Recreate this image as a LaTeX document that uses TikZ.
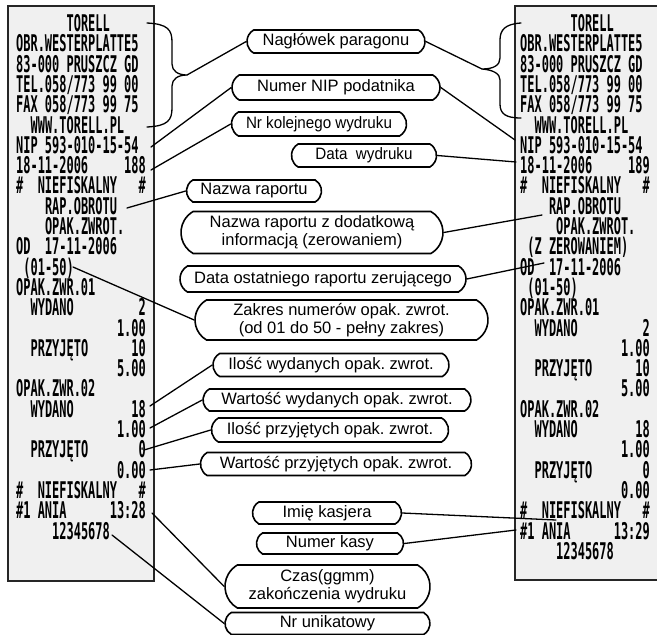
\documentclass[tikz,border=0pt]{standalone}
\usepackage{fontspec}
\usetikzlibrary{shapes.misc}
\newfontfamily\rcf[FakeStretch=0.52]{DejaVu Sans Mono Bold}
\newfontfamily\lsf{Liberation Sans}
\tikzset{
  rtxt/.style={anchor=base west, inner sep=0pt, text height=15pt, text depth=1pt, font=\rcf\fontsize{23}{23}\selectfont},
  rbox/.style={draw=black!85, line width=1.5pt, fill=black!6},
  callout/.style={draw, line width=1.6pt, fill=white, rounded rectangle, rounded rectangle arc length=120,
     inner sep=0pt, align=center, font=\lsf\frenchspacing\fontsize{16.5}{18.3}\selectfont},
  conn/.style={line width=1.3pt, line cap=round, line join=round},
}
\newcommand\lft[2]{\node[rtxt] (L#1) at (16,{31.5+20.3*#1}) {#2};}
\newcommand\rgt[2]{\node[rtxt] (R#1) at (520,{31.5+20.3*#1}) {#2};}
\newcommand\cbox[6]{\node[callout, minimum width=#4pt, minimum height=#5pt] (#1) at (#2,#3) {#6};}
\begin{document}
\begin{tikzpicture}[x=1pt,y=-1pt]
\useasboundingbox (0,0) rectangle (657,635);
% receipts
\draw[rbox] (8,6) rectangle (154,581);
\draw[rbox] (515,6) rectangle (662,580);
% left receipt
\lft{0}{~~~~~~~TORELL}
\lft{1}{OBR.WESTERPLATTE5}
\lft{2}{83-000~PRUSZCZ~GD}
\lft{3}{TEL.058/773~99~00}
\lft{4}{FAX~058/773~99~75}
\lft{5}{~~WWW.TORELL.PL}
\lft{6}{NIP~593-010-15-54}
\lft{7}{18-11-2006~~~~~188}
\lft{8}{\#~~NIEFISKALNY~~~\#}
\lft{9}{~~~~RAP.OBROTU}
\lft{10}{~~~~OPAK.ZWROT.}
\lft{11}{OD~~17-11-2006}
\lft{12}{~(01-50)}
\lft{13}{OPAK.ZWR.01}
\lft{14}{~~WYDANO~~~~~~~~~2}
\lft{15}{~~~~~~~~~~~~~~1.00}
\lft{16}{~~PRZYJĘTO~~~~~~10}
\lft{17}{~~~~~~~~~~~~~~5.00}
\lft{18}{OPAK.ZWR.02}
\lft{19}{~~WYDANO~~~~~~~~18}
\lft{20}{~~~~~~~~~~~~~~1.00}
\lft{21}{~~PRZYJĘTO~~~~~~~0}
\lft{22}{~~~~~~~~~~~~~~0.00}
\lft{23}{\#~~NIEFISKALNY~~~\#}
\lft{24}{\#1~ANIA~~~~~~13:28}
\lft{25}{~~~~~12345678}
% right receipt
\rgt{0}{~~~~~~~TORELL}
\rgt{1}{OBR.WESTERPLATTE5}
\rgt{2}{83-000~PRUSZCZ~GD}
\rgt{3}{TEL.058/773~99~00}
\rgt{4}{FAX~058/773~99~75}
\rgt{5}{~~WWW.TORELL.PL}
\rgt{6}{NIP~593-010-15-54}
\rgt{7}{18-11-2006~~~~~189}
\rgt{8}{\#~~NIEFISKALNY~~~\#}
\rgt{9}{~~~~RAP.OBROTU}
\rgt{10}{~~~~~OPAK.ZWROT.}
\rgt{11}{~(Z~ZEROWANIEM)}
\rgt{12}{OD~~17-11-2006}
\rgt{13}{~(01-50)}
\rgt{14}{OPAK.ZWR.01}
\rgt{15}{~~WYDANO~~~~~~~~~2}
\rgt{16}{~~~~~~~~~~~~~~1.00}
\rgt{17}{~~PRZYJĘTO~~~~~~10}
\rgt{18}{~~~~~~~~~~~~~~5.00}
\rgt{19}{OPAK.ZWR.02}
\rgt{20}{~~WYDANO~~~~~~~~18}
\rgt{21}{~~~~~~~~~~~~~~1.00}
\rgt{22}{~~PRZYJĘTO~~~~~~~0}
\rgt{23}{~~~~~~~~~~~~~~0.00}
\rgt{24}{\#~~NIEFISKALNY~~~\#}
\rgt{25}{\#1~ANIA~~~~~~13:29}
\rgt{26}{~~~~~12345678}
% callouts
\cbox{Nag}{336}{41.5}{178}{23}{Nagłówek paragonu}
\cbox{NIP}{336}{87.5}{208}{25}{Numer NIP podatnika}
\cbox{Nr}{319}{124}{175}{24}{\scalebox{0.92}[1]{Nr kolejnego wydruku}}
\cbox{Data}{364}{155.5}{145}{23}{\scalebox{0.92}[1]{Data~~wydruku}}
\cbox{Rap}{254}{191}{135}{22}{Nazwa raportu}
\cbox{Rap2}{312}{232.5}{262}{42}{Nazwa raportu z dodatkową\\informacją (zerowaniem)}
\cbox{Ost}{323}{279}{286}{26}{Data ostatniego raportu zerującego}
\cbox{Zak}{341.5}{320}{293}{40}{Zakres numerów opak. zwrot.\\(od 01 do 50 - pełny zakres)}
\cbox{Ilw}{331}{365}{236}{23}{Ilość wydanych opak. zwrot.}
\cbox{Waw}{337}{400}{268}{22}{Wartość wydanych opak. zwrot.}
\cbox{Ilp}{330}{430}{237}{24}{Ilość przyjętych opak. zwrot.}
\cbox{Wap}{336}{464}{271}{23}{Wartość przyjętych opak. zwrot.}
\cbox{Imie}{327}{513}{149}{22}{Imię kasjera}
\cbox{Kasa}{330}{543.5}{147}{21}{Numer kasy}
\cbox{Czas}{327.5}{586.5}{205}{43}{Czas(ggmm)\\zakończenia wydruku}
\cbox{NrU}{327.5}{623.5}{205}{22}{Nr unikatowy}
% connector end points
\coordinate (bLt) at (147,23);
\coordinate (bLtip) at (187,75);
\coordinate (bLb) at (147,127);
\coordinate (bRt) at (521,23);
\coordinate (bRtip) at (482,69);
\coordinate (bRb) at (521,118);
\coordinate (cNIPL) at (151,147);
\coordinate (cNIPR) at (515,140);
\coordinate (cNrL) at (151,170);
\coordinate (cDataR) at (516,162);
\coordinate (cRapL) at (127,208);
\coordinate (cRap2R) at (542,215);
\coordinate (cOstR) at (544,263);
\coordinate (cZakL) at (73,267);
\coordinate (cIlw) at (150,406);
\coordinate (cWaw) at (150,428);
\coordinate (cIlp) at (144,450);
\coordinate (cWap) at (150,470);
\coordinate (cImR) at (556,520);
\coordinate (cKasR) at (516,530);
\coordinate (cCzasL) at (152,513);
\coordinate (cNrUL) at (112,535);
% braces
\draw[conn] (bLt) .. controls (168,24) and (172,30) .. (172,42) -- (172,64)
   .. controls (172,71) and (178,75) .. (bLtip)
   .. controls (178,75) and (172,79) .. (172,86) -- (172,108)
   .. controls (172,120) and (168,126) .. (bLb);
\draw[conn] (bRt) .. controls (505,24) and (500,30) .. (500,40) -- (500,58)
   .. controls (500,65) and (494,69) .. (bRtip)
   .. controls (494,70) and (500,74) .. (500,80) -- (500,104)
   .. controls (500,114) and (506,118) .. (bRb);
% connectors
\draw[conn] (bLtip) -- (Nag.west);
\draw[conn] (Nag.east) -- (bRtip);
\draw[conn] (cNIPL) -- (NIP.west);
\draw[conn] (NIP.east) -- (cNIPR);
\draw[conn] (cNrL) -- (Nr.west);
\draw[conn] (Data.east) -- (cDataR);
\draw[conn] (cRapL) -- (Rap.west);
\draw[conn] (Rap2.east) -- (cRap2R);
\draw[conn] (Ost.east) -- (cOstR);
\draw[conn] (cZakL) -- (Zak.west);
\draw[conn] (cIlw) -- (Ilw.west);
\draw[conn] (cWaw) -- (Waw.west);
\draw[conn] (cIlp) -- (Ilp.west);
\draw[conn] (cWap) -- (Wap.west);
\draw[conn] (Imie.east) -- (cImR);
\draw[conn] (Kasa.east) -- (cKasR);
\draw[conn] (cCzasL) -- (Czas.west);
\draw[conn] (cNrUL) -- (NrU.west);
\end{tikzpicture}
\end{document}
